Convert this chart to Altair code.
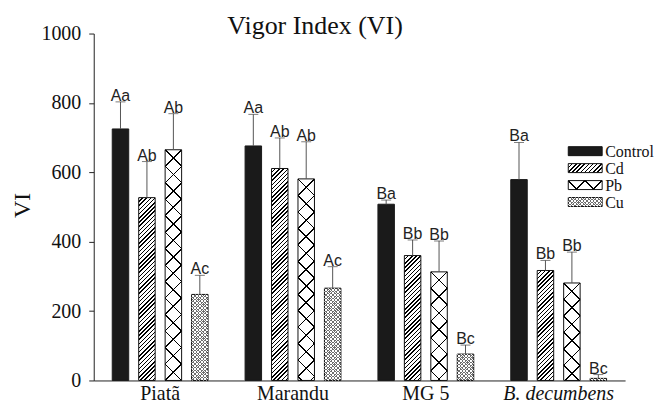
import math
import altair as alt
import pandas as pd

# ---------------- data ----------------
groups = ["Piatã", "Marandu", "MG 5", "B. decumbens"]
series = ["Control", "Cd", "Pb", "Cu"]
control_vi = [725, 676, 508, 579]
cd_vi = [527, 611, 360, 317]
pb_vi = [665, 581, 313, 281]
cu_vi = [248, 266, 76, 6]
control_err = [78, 91, 12, 107]
cd_err = [104, 88, 45, 29]
pb_err = [104, 107, 89, 89]
cu_err = [55, 62, 26, 11]
control_lbl = ["Aa", "Aa", "Ba", "Ba"]
cd_lbl = ["Ab", "Ab", "Bb", "Bb"]
pb_lbl = ["Ab", "Ab", "Bb", "Bb"]
cu_lbl = ["Ac", "Ac", "Bc", "Bc"]
y_ticks = [0, 200, 400, 600, 800, 1000]
title_text = "Vigor Index (VI)"
y_title = "VI"

vals = {"Control": control_vi, "Cd": cd_vi, "Pb": pb_vi, "Cu": cu_vi}
errs = {"Control": control_err, "Cd": cd_err, "Pb": pb_err, "Cu": cu_err}
lbls = {"Control": control_lbl, "Cd": cd_lbl, "Pb": pb_lbl, "Cu": cu_lbl}

rows = []
for s in series:
    for i, g in enumerate(groups):
        rows.append({"group": g, "series": s, "vi": vals[s][i],
                     "top": vals[s][i] + errs[s][i], "lbl": lbls[s][i]})
df = pd.DataFrame(rows)

# ---------------- layout ----------------
W, H = 533, 348
YMAX = 1000
P_IN, P_OUT = 0.377, 0.7
BAR_W = (W / len(groups)) / (len(series) - P_IN + 2 * P_OUT) * (1 - P_IN)
SERIF = "Liberation Serif"
SANS = "Liberation Sans"


def stripes(w, h, kind, period, lw, fg, bg, phase=0.0):
    L = w + h
    kk = L / (w * w + h * h)
    if kind == "/":
        coords = dict(x1=0, y1=0, x2=kk * w, y2=kk * h)
        smin = 0.0
    else:
        coords = dict(x1=0, y1=1, x2=kk * w, y2=1 - kk * h)
        smin = -h
    st = [(0.0, bg)]
    n0 = math.floor((smin - lw - phase) / period)
    n1 = math.ceil((smin + L + lw - phase) / period)
    for n in range(n0, n1 + 1):
        c = phase + n * period
        a = (c - lw / 2 - smin) / L
        b = (c + lw / 2 - smin) / L
        if b <= 0 or a >= 1:
            continue
        a = max(a, 0.0)
        b = min(b, 1.0)
        st += [(a, bg), (a, fg), (b, fg), (b, bg)]
    st.append((1.0, bg))
    g = {"gradient": "linear"}
    g.update({k: round(v, 5) for k, v in coords.items()})
    g["stops"] = [{"offset": round(o, 5), "color": col} for o, col in st]
    return g


TRANSP = "rgba(0,0,0,0)"
GRAY = "#6e6e6e"


def pattern_fills(s, w, h):
    """list of (fill, stroked) for the layers that make one patterned box"""
    if s == "Cd":
        return [(stripes(w, h, "/", 4.2, 1.5, "black", "white"), True)]
    if s == "Pb":
        per = w if w < 25 else w / 2
        return [(stripes(w, h, "/", per, 1.6, "black", "white"), True),
                (stripes(w, h, "\\", per, 1.6, "black", TRANSP), False)]
    if s == "Cu":
        return [(stripes(w, h, "/", 3.4, 1.0, "white", GRAY), True),
                (stripes(w, h, "\\", 3.4, 1.0, "white", TRANSP), False)]
    return [("#1a1a1a", True)]


x_enc = alt.X(
    "group:N",
    scale=alt.Scale(domain=groups, paddingInner=0, paddingOuter=0),
    axis=alt.Axis(
        title=None, ticks=False, labelAngle=0, labelPadding=3,
        labelFont=SERIF, labelFontSize=20, labelColor="#111",
        labelFontStyle=alt.ExprRef(expr="datum.value == 'B. decumbens' ? 'italic' : 'normal'"),
        domainColor="#222", domainWidth=1,
    ),
)
xo_enc = alt.XOffset("series:N", scale=alt.Scale(domain=series, paddingInner=P_IN, paddingOuter=P_OUT))
y_axis = alt.Axis(
    values=y_ticks, format="d", grid=False, tickSize=5, tickColor="#222", labelPadding=8,
    labelFont=SERIF, labelFontSize=20, labelColor="#111", domainColor="#222",
    title=y_title, titleFont=SERIF, titleFontSize=24, titleFontWeight="normal",
    titleColor="#111", titleX=-64, titleY=172, titleAngle=270,
    titleBaseline="alphabetic", titleAlign="center",
)
y_scale = alt.Scale(domain=[0, YMAX], nice=False, zero=True)

layers = []

# control bars (solid)
layers.append(
    alt.Chart(df[df.series == "Control"]).mark_bar(fill="#1a1a1a", stroke="#1a1a1a", strokeWidth=1).encode(
        x=x_enc, xOffset=xo_enc, y=alt.Y("vi:Q", scale=y_scale, axis=y_axis)
    )
)

# patterned bars (one layer per bar, pattern sized to the bar)
for s in ["Cd", "Pb", "Cu"]:
    for i, g in enumerate(groups):
        sub = df[(df.series == s) & (df.group == g)]
        h = max(vals[s][i] * H / YMAX, 1.0)
        for fill, stroked in pattern_fills(s, BAR_W, h):
            mk = dict(fill=fill)
            if stroked:
                mk.update(stroke="#111", strokeWidth=1)
            else:
                mk.update(strokeWidth=0)
            layers.append(
                alt.Chart(sub).mark_bar(**mk).encode(
                    x=x_enc, xOffset=xo_enc, y=alt.Y("vi:Q", scale=y_scale, axis=y_axis)
                )
            )

# error bars
layers.append(
    alt.Chart(df).mark_rule(color="#555", strokeWidth=1).encode(
        x=x_enc, xOffset=xo_enc, y=alt.Y("vi:Q", scale=y_scale, axis=y_axis), y2="top:Q"
    )
)
layers.append(
    alt.Chart(df).mark_tick(color="#444", size=10, thickness=1).encode(
        x=x_enc, xOffset=xo_enc, y=alt.Y("top:Q", scale=y_scale, axis=y_axis)
    )
)
# significance letters
layers.append(
    alt.Chart(df).mark_text(font=SANS, fontSize=16, baseline="alphabetic", dy=-1, color="#222").encode(
        x=x_enc, xOffset=xo_enc, y=alt.Y("top:Q", scale=y_scale, axis=y_axis), text="lbl:N"
    )
)

# legend (custom, patterned boxes)
LEG_X0, LEG_X1 = 476, 510
LEG_Y0, LEG_STEP, LEG_H = 118, 17, 9
for j, s in enumerate(series):
    yc = LEG_Y0 + j * LEG_STEP
    one = pd.DataFrame({"name": [s]})
    for fill, stroked in pattern_fills(s, LEG_X1 - LEG_X0, LEG_H):
        mk = dict(fill=fill)
        if stroked:
            mk.update(stroke="#111", strokeWidth=1)
        else:
            mk.update(strokeWidth=0)
        layers.append(
            alt.Chart(one).mark_rect(**mk).encode(
                x=alt.value(LEG_X0), x2=alt.value(LEG_X1),
                y=alt.value(yc - LEG_H / 2), y2=alt.value(yc + LEG_H / 2),
            )
        )
    layers.append(
        alt.Chart(one).mark_text(font=SERIF, fontSize=16, align="left", baseline="middle", color="#111", dy=1).encode(
            x=alt.value(LEG_X1 + 3), y=alt.value(yc), text="name:N"
        )
    )

# title
layers.append(
    alt.Chart(pd.DataFrame({"t": [title_text]})).mark_text(
        font=SERIF, fontSize=26, align="center", baseline="alphabetic", color="#111"
    ).encode(x=alt.value(222), y=alt.value(0), text="t:N")
)

chart = (
    alt.layer(*layers)
    .properties(
        width=W, height=H,
        autosize=alt.AutoSizeParams(type="none"),
        padding={"left": 86, "top": 25, "right": 30, "bottom": 23},
        background="white",
    )
    .configure_view(stroke=None)
)

chart.save("out.html", embed_options={"renderer": "svg", "actions": False})
